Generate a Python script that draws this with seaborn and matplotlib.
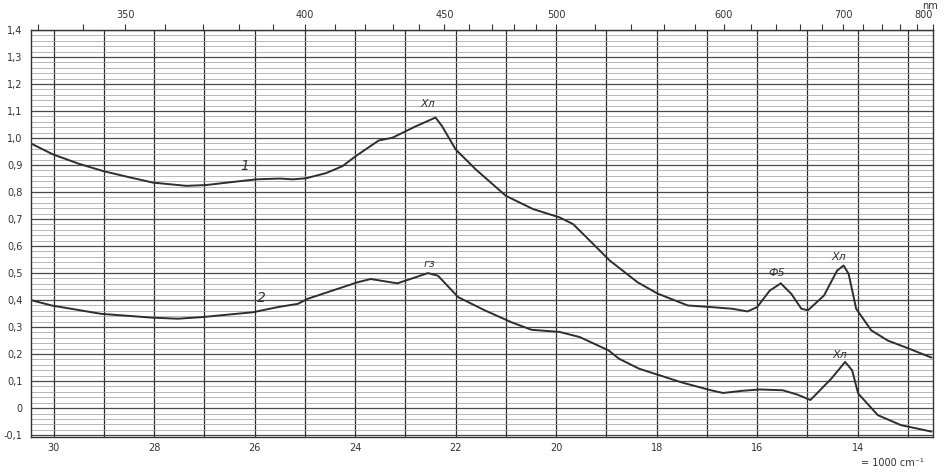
import numpy as np
import pandas as pd
import matplotlib
matplotlib.use("Agg")
import matplotlib.pyplot as plt
import seaborn as sns
from matplotlib.ticker import MultipleLocator, FuncFormatter

# ---- data (wavenumber in 1000 cm^-1, absorbance) ----
wn1 = [30.45, 30.02, 29.5, 29.02, 28.5, 28.02, 27.36, 26.96, 26.5, 25.97, 25.5, 25.24,
       24.98, 24.58, 24.25, 23.98, 23.53, 23.26, 22.81, 22.40, 22.27, 22.0, 21.6, 21.0,
       20.46, 19.93, 19.66, 19.33, 18.93, 18.38, 17.98, 17.38, 16.91, 16.5, 16.19, 16.0,
       15.75, 15.53, 15.32, 15.12, 14.99, 14.67, 14.41, 14.28, 14.18, 14.03, 13.73, 13.4,
       13.06, 12.53]
abs1 = [0.98, 0.94, 0.905, 0.878, 0.855, 0.835, 0.823, 0.826, 0.836, 0.847, 0.85, 0.847,
        0.851, 0.87, 0.896, 0.934, 0.991, 1.001, 1.042, 1.076, 1.044, 0.958, 0.884, 0.786,
        0.737, 0.706, 0.681, 0.62, 0.546, 0.466, 0.424, 0.380, 0.374, 0.368, 0.358, 0.374,
        0.435, 0.462, 0.423, 0.368, 0.362, 0.417, 0.509, 0.528, 0.497, 0.368, 0.288, 0.25,
        0.226, 0.187]

wn2 = [30.45, 30.04, 29.05, 28.04, 27.53, 27.04, 26.03, 25.54, 25.14, 24.94, 23.95, 23.69,
       23.16, 22.9, 22.55, 22.35, 21.95, 21.42, 20.89, 20.49, 19.93, 19.53, 18.96, 18.75,
       18.35, 17.95, 17.5, 16.92, 16.68, 16.3, 15.95, 15.49, 15.2, 14.94, 14.52, 14.25,
       14.11, 13.99, 13.60, 13.14, 12.53]
abs2 = [0.40, 0.38, 0.349, 0.335, 0.331, 0.337, 0.355, 0.374, 0.386, 0.405, 0.466, 0.478,
        0.462, 0.478, 0.50, 0.49, 0.411, 0.362, 0.318, 0.29, 0.282, 0.263, 0.214, 0.183,
        0.146, 0.122, 0.095, 0.066, 0.056, 0.064, 0.069, 0.066, 0.05, 0.030, 0.110, 0.171,
        0.140, 0.054, -0.026, -0.063, -0.087]

curve_names = ["1", "2"]
ytick_vals = [-0.1, 0.0, 0.1, 0.2, 0.3, 0.4, 0.5, 0.6, 0.7, 0.8, 0.9, 1.0, 1.1, 1.2, 1.3, 1.4]
xtick_vals = [30, 28, 26, 24, 22, 20, 18, 16, 14]
nm_ticks = [330, 340, 350, 360, 370, 380, 390, 400, 410, 420, 430, 440, 450, 460, 470, 480,
            490, 500, 520, 540, 560, 580, 600, 620, 640, 660, 680, 700, 720, 740, 760, 780, 800]
nm_labels = [350, 400, 450, 500, 600, 700, 800]

# annotations: (text, wavenumber, absorbance, fontsize)
notes = [("1", 26.2, 0.897, 10), ("2", 25.87, 0.406, 10), ("Хл", 22.55, 1.125, 8),
         ("гз", 22.52, 0.535, 8), ("Ф5", 15.6, 0.50, 8), ("Хл", 14.37, 0.56, 8),
         ("Хл", 14.36, 0.196, 8)]

df = pd.concat([
    pd.DataFrame({"wn": wn1, "A": abs1, "curve": curve_names[0]}),
    pd.DataFrame({"wn": wn2, "A": abs2, "curve": curve_names[1]}),
], ignore_index=True)

sns.set_theme(style="white")
plt.rcParams['font.family'] = ['DejaVu Sans']

fig = plt.figure(figsize=(9.44, 4.75), dpi=100)
fig.patch.set_facecolor("white")
ax = fig.add_axes([0.0328, 0.080, 0.9556, 0.8568])
ax.set_facecolor("white")

sns.lineplot(data=df, x="wn", y="A", hue="curve", units="curve", estimator=None, sort=False,
             palette={"1": "#2e2e2e", "2": "#2e2e2e"}, linewidth=1.4, legend=False, ax=ax, zorder=5)

ax.set_xlim(30.45, 12.5)
ax.set_ylim(-0.107, 1.4)

ax.xaxis.set_major_locator(plt.FixedLocator(xtick_vals))
ax.xaxis.set_minor_locator(MultipleLocator(1))
ax.yaxis.set_major_locator(plt.FixedLocator(ytick_vals))
ax.yaxis.set_minor_locator(MultipleLocator(0.02))
ax.yaxis.set_major_formatter(FuncFormatter(lambda v, p: "0" if abs(v) < 1e-9 else f"{v:.1f}".replace(".", ",")))
ax.xaxis.set_major_formatter(FuncFormatter(lambda v, p: f"{v:.0f}"))

ax.set_axisbelow(True)
ax.grid(which="minor", axis="x", color="#2a2a2a", lw=0.9)
ax.grid(which="major", axis="x", color="#2a2a2a", lw=0.9)
ax.grid(which="major", axis="y", color="#4a4a4a", lw=0.9)
ax.grid(which="minor", axis="y", color="#a3a3a3", lw=0.55)

ax.tick_params(axis="both", which="both", length=0, labelsize=7, colors="#333333")
ax.tick_params(axis="y", pad=6)
ax.tick_params(axis="x", pad=4)
ax.set_xlabel("")
ax.set_ylabel("")
for s in ax.spines.values():
    s.set_visible(True)
    s.set_color("#333333")
    s.set_linewidth(1.0)


def k2nm(k):
    k = np.asarray(k, dtype=float)
    with np.errstate(divide="ignore", invalid="ignore"):
        return 1e4 / k


secax = ax.secondary_xaxis("top", functions=(k2nm, k2nm))
secax.set_xticks(nm_ticks)
secax.set_xticklabels([str(n) if n in nm_labels else "" for n in nm_ticks])
secax.tick_params(length=4, width=0.8, pad=3, labelsize=7, colors="#333333", direction="out")
secax.spines["top"].set_visible(False)
for lbl in secax.get_xticklabels():
    if lbl.get_text() == "800":
        lbl.set_horizontalalignment("right")

for txt, kx, ay, fs in notes:
    ax.text(kx, ay, txt, fontsize=fs, style="italic", color="#333333", ha="center", va="center", zorder=6)

fig.text(0.994, 0.997, "nm", fontsize=7, color="#333333", ha="right", va="top")
fig.text(0.945, 0.026, "= 1000 cm⁻¹", fontsize=7, color="#333333", ha="center", va="center")

fig.savefig("out.png", dpi=100)
